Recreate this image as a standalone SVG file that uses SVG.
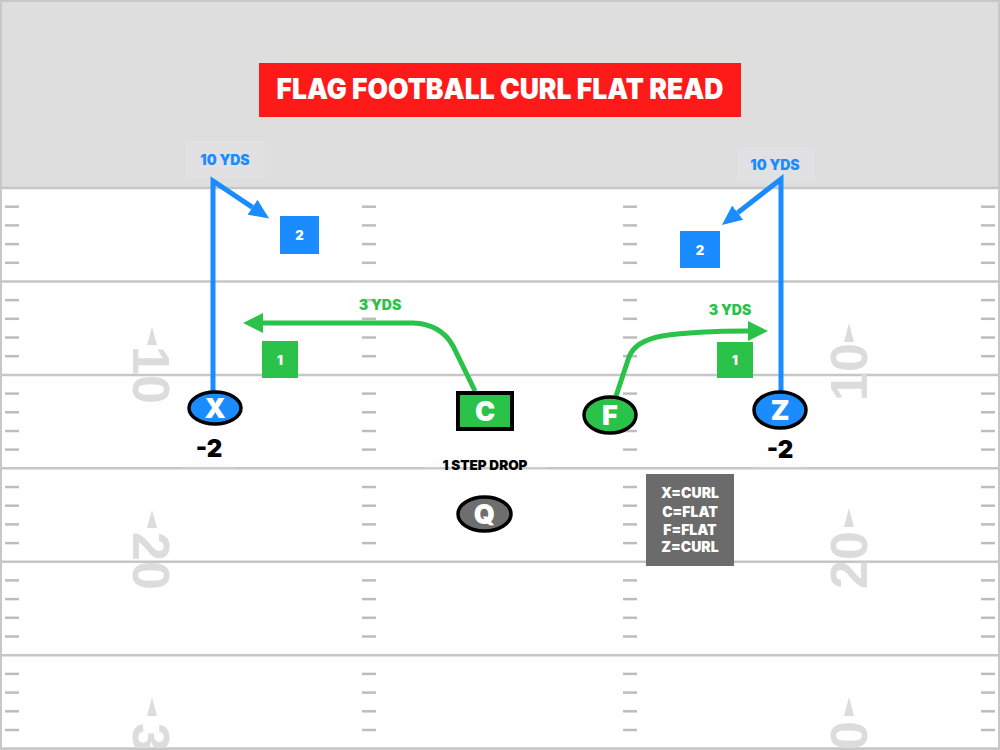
<svg xmlns="http://www.w3.org/2000/svg" xmlns:xlink="http://www.w3.org/1999/xlink" width="1000" height="750" viewBox="0 0 1000 750">
<style>
.yard{stroke:#c6c6c6;stroke-width:2.5}
.hash{stroke:#bdbdbd;stroke-width:2.5}
.num{font-family:"Liberation Sans","DejaVu Sans",sans-serif;font-weight:700;font-size:52px;fill:#dcdcdc}
.tri{fill:#dcdcdc}
.lbl{font-family:Inter,"Liberation Sans",sans-serif;font-weight:900;text-anchor:middle}
.lblbg{fill:#f3efff;opacity:0.12}
.route-b{fill:none;stroke:#1a8cff;stroke-width:5}
.route-g{fill:none;stroke:#2bc24a;stroke-width:5}
.player{stroke:#000;stroke-width:3.5}
.ptxt{font-family:Inter,"Liberation Sans",sans-serif;font-weight:900;font-size:27px;fill:#fff;text-anchor:middle}
.blue{fill:#1a8cff}
.green{fill:#2bc24a}
.box{font-family:Inter,"Liberation Sans",sans-serif;font-weight:900;font-size:13px;fill:#fff;text-anchor:middle}
</style>
<defs>
<marker id="arrB" viewBox="0 0 20 18" refX="0" refY="9" markerWidth="20" markerHeight="18" markerUnits="userSpaceOnUse" orient="auto"><path d="M0,0 L20,9 L0,18 z" fill="#1a8cff"/></marker>
<marker id="arrG" viewBox="0 0 20 20" refX="0" refY="10" markerWidth="20" markerHeight="20" markerUnits="userSpaceOnUse" orient="auto"><path d="M0,0 L20,10 L0,20 z" fill="#2bc24a"/></marker>
<g id="hashcol" class="hash">
<line x1="0" x2="14" y1="206.7" y2="206.7"/><line x1="0" x2="14" y1="225.4" y2="225.4"/><line x1="0" x2="14" y1="244.1" y2="244.1"/><line x1="0" x2="14" y1="262.8" y2="262.8"/>
<line x1="0" x2="14" y1="300.1" y2="300.1"/><line x1="0" x2="14" y1="318.8" y2="318.8"/><line x1="0" x2="14" y1="337.5" y2="337.5"/><line x1="0" x2="14" y1="356.2" y2="356.2"/>
<line x1="0" x2="14" y1="393.6" y2="393.6"/><line x1="0" x2="14" y1="412.3" y2="412.3"/><line x1="0" x2="14" y1="431" y2="431"/><line x1="0" x2="14" y1="449.6" y2="449.6"/>
<line x1="0" x2="14" y1="487" y2="487"/><line x1="0" x2="14" y1="505.7" y2="505.7"/><line x1="0" x2="14" y1="524.4" y2="524.4"/><line x1="0" x2="14" y1="543.1" y2="543.1"/>
<line x1="0" x2="14" y1="580.4" y2="580.4"/><line x1="0" x2="14" y1="599.1" y2="599.1"/><line x1="0" x2="14" y1="617.8" y2="617.8"/><line x1="0" x2="14" y1="636.5" y2="636.5"/>
<line x1="0" x2="14" y1="673.9" y2="673.9"/><line x1="0" x2="14" y1="692.6" y2="692.6"/><line x1="0" x2="14" y1="711.3" y2="711.3"/><line x1="0" x2="14" y1="730" y2="730"/>
</g>
</defs>

<g id="field">
<rect x="0" y="0" width="1000" height="750" fill="#ffffff"/>
<rect x="0" y="0" width="1000" height="188" fill="#dedede"/>
<line class="yard" x1="0" x2="1000" y1="188" y2="188"/>
<line class="yard" x1="0" x2="1000" y1="281.4" y2="281.4"/>
<line class="yard" x1="0" x2="1000" y1="374.9" y2="374.9"/>
<line class="yard" x1="0" x2="1000" y1="468.3" y2="468.3"/>
<line class="yard" x1="0" x2="1000" y1="561.7" y2="561.7"/>
<line class="yard" x1="0" x2="1000" y1="655.2" y2="655.2"/>
<line class="yard" x1="0" x2="1000" y1="748.6" y2="748.6"/>
<use xlink:href="#hashcol" x="5"/>
<use xlink:href="#hashcol" x="362"/>
<use xlink:href="#hashcol" x="623"/>
<use xlink:href="#hashcol" x="981"/>
<text class="num" text-anchor="middle" transform="translate(133,375) rotate(90)">10</text>
<text class="num" text-anchor="middle" transform="translate(133,561) rotate(90)">20</text>
<text class="num" text-anchor="middle" transform="translate(133,752) rotate(90)">30</text>
<text class="num" text-anchor="middle" transform="translate(867,372) rotate(-90)">10</text>
<text class="num" text-anchor="middle" transform="translate(867,560) rotate(-90)">20</text>
<text class="num" text-anchor="middle" transform="translate(867,750) rotate(-90)">30</text>
<polygon class="tri" points="152,327 147,345 157,345"/>
<polygon class="tri" points="152,510 147,528 157,528"/>
<polygon class="tri" points="152,697 147,716 157,716"/>
<polygon class="tri" points="849,323 844,342 854,342"/>
<polygon class="tri" points="849,508 844,527 854,527"/>
<polygon class="tri" points="849,697 844,716 854,716"/>
<rect x="1" y="1" width="998" height="748" fill="none" stroke="#c8c8c8" stroke-width="2"/>
</g>

<g id="title">
<rect x="259" y="63" width="482" height="54" fill="#ff1a1a"/>
<text x="500" y="99" font-family="Inter,'Liberation Sans',sans-serif" font-weight="900" font-size="28" fill="#ffffff" text-anchor="middle" textLength="447" lengthAdjust="spacingAndGlyphs">FLAG FOOTBALL CURL FLAT READ</text>
</g>

<g id="label-bgs">
<rect class="lblbg" x="185" y="141" width="80" height="37"/>
<rect class="lblbg" x="737" y="147" width="78" height="36"/>
<rect class="lblbg" x="345" y="286" width="70" height="27"/>
<rect class="lblbg" x="693" y="290" width="72" height="30"/>
<rect class="lblbg" x="423" y="445" width="124" height="38"/>
<rect class="lblbg" x="182" y="423" width="53" height="47"/>
<rect class="lblbg" x="753" y="420" width="54" height="57"/>
</g>

<g id="connectors">
<path class="route-b" d="M213,392 L213,181 L252.5,207.3" marker-end="url(#arrB)"/>
<path class="route-b" d="M781,392 L781,179 L737.7,212.7" marker-end="url(#arrB)"/>
<path class="route-g" d="M475,391 L453,346 Q441,324 413,323 L263,323" marker-end="url(#arrG)"/>
<path class="route-g" d="M616,396 L629,357 Q635,341 662,336 Q695,331 748,331" marker-end="url(#arrG)"/>
</g>

<g id="node-X">
<ellipse class="player blue" cx="215" cy="408" rx="26" ry="16"/>
<text class="ptxt" x="215" y="418">X</text>
<text class="lbl" x="209" y="457" font-size="24" fill="#000">-2</text>
</g>
<g id="node-C">
<rect x="458" y="393" width="54" height="36" fill="#2bc24a" stroke="#000" stroke-width="4"/>
<text class="ptxt" x="485" y="420.5">C</text>
</g>
<g id="node-F">
<ellipse class="player green" cx="610" cy="415" rx="26" ry="18"/>
<text class="ptxt" x="610" y="425">F</text>
</g>
<g id="node-Z">
<ellipse class="player blue" cx="780" cy="410" rx="26" ry="18"/>
<text class="ptxt" x="780" y="420">Z</text>
<text class="lbl" x="780" y="458" font-size="24" fill="#000">-2</text>
</g>
<g id="node-Q">
<ellipse class="player" cx="484.5" cy="514" rx="26.5" ry="17" fill="#6e6e6e"/>
<text class="ptxt" x="484.5" y="524">Q</text>
</g>

<g id="box-X2">
<rect x="280" y="216" width="39" height="38" fill="#1a8cff"/>
<text class="box" x="299.5" y="240">2</text>
</g>
<g id="box-Z2">
<rect x="680" y="231" width="40" height="37" fill="#1a8cff"/>
<text class="box" x="700" y="254.5">2</text>
</g>
<g id="box-C1">
<rect x="262" y="341" width="36" height="37" fill="#2bc24a"/>
<text class="box" x="280" y="364.5">1</text>
</g>
<g id="box-F1">
<rect x="717" y="342" width="36" height="36" fill="#2bc24a"/>
<text class="box" x="735" y="365">1</text>
</g>

<g id="labels">
<text class="lbl" x="225" y="165" font-size="14" fill="#1a8cff">10 YDS</text>
<text class="lbl" x="775" y="170" font-size="14" fill="#1a8cff">10 YDS</text>
<text class="lbl" x="380" y="310" font-size="14" fill="#2bc24a">3 YDS</text>
<text class="lbl" x="730" y="315" font-size="14" fill="#2bc24a">3 YDS</text>
<text class="lbl" x="485" y="470" font-size="13.5" fill="#000">1 STEP DROP</text>
</g>

<g id="legend">
<rect x="646" y="474" width="88" height="92" fill="#6b6b6b"/>
<text class="lbl" x="690" y="498" font-size="14" fill="#fff">X=CURL</text>
<text class="lbl" x="690" y="517" font-size="14" fill="#fff">C=FLAT</text>
<text class="lbl" x="690" y="535" font-size="14" fill="#fff">F=FLAT</text>
<text class="lbl" x="690" y="552" font-size="14" fill="#fff">Z=CURL</text>
</g>
</svg>
